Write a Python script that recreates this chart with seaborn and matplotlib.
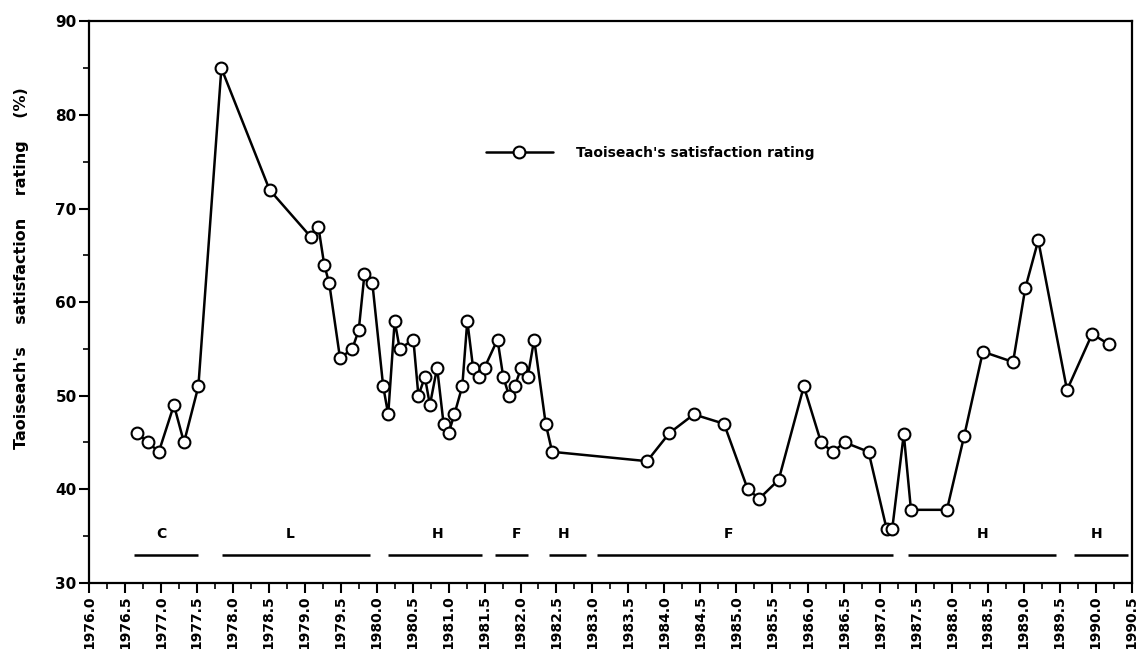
#!/usr/bin/env python3
"""
Taoiseach's satisfaction rating 1976-1990, with the party leader in office
marked along the bottom of the chart.
"""

import numpy as np
import matplotlib
matplotlib.use("Agg")
import matplotlib.pyplot as plt
import seaborn as sns

# Poll dates (decimal years) and satisfaction ratings (%)
years = [1976.67, 1976.82, 1976.97, 1977.18, 1977.32, 1977.52, 1977.84,
         1978.51, 1979.08, 1979.19, 1979.27, 1979.34, 1979.49, 1979.66,
         1979.75, 1979.83, 1979.94, 1980.09, 1980.16, 1980.25, 1980.32,
         1980.51, 1980.58, 1980.67, 1980.74, 1980.84, 1980.93, 1981.00,
         1981.08, 1981.19, 1981.26, 1981.34, 1981.42, 1981.50, 1981.68,
         1981.76, 1981.84, 1981.92, 1982.01, 1982.10, 1982.19, 1982.35,
         1982.44, 1983.76, 1984.07, 1984.41, 1984.83, 1985.16, 1985.32,
         1985.59, 1985.94, 1986.18, 1986.34, 1986.51, 1986.84, 1987.09,
         1987.17, 1987.33, 1987.43, 1987.93, 1988.17, 1988.43, 1988.85,
         1989.02, 1989.20, 1989.60, 1989.95, 1990.18]
ratings = [46, 45, 44, 49, 45, 51, 85,
           72, 67, 68, 64, 62, 54, 55,
           57, 63, 62, 51, 48, 58, 55,
           56, 50, 52, 49, 53, 47, 46,
           48, 51, 58, 53, 52, 53, 56,
           52, 50, 51, 53, 52, 56, 47,
           44, 43, 46, 48, 47, 40, 39,
           41, 51, 45, 44, 45, 44, 35.8,
           35.8, 45.9, 37.8, 37.8, 45.7, 54.7, 53.6,
           61.5, 66.6, 50.6, 56.6, 55.5]

# Taoiseach in office: C = Cosgrave, L = Lynch, H = Haughey, F = FitzGerald
leaders = ["C", "L", "H", "F", "H", "F", "H", "H"]
term_start = [1976.63, 1977.85, 1980.16, 1981.64, 1982.39, 1983.07, 1987.39, 1989.70]
term_end = [1977.51, 1979.90, 1981.47, 1982.10, 1982.91, 1987.18, 1989.45, 1990.45]
leader_label_x = [1977.00, 1978.80, 1980.85, 1981.94, 1982.60, 1984.89, 1988.43, 1990.01]
term_level = 33
leader_label_level = 35.2


def draw_chart():
    """Draw the rating line, the leader bars and save the figure."""
    sns.set_style("ticks")
    plt.rcParams["font.family"] = ["DejaVu Sans"]
    plt.rcParams["text.color"] = "black"
    plt.rcParams["axes.labelcolor"] = "black"
    plt.rcParams["xtick.color"] = "black"
    plt.rcParams["ytick.color"] = "black"

    fig = plt.figure(figsize=(11.42, 6.49), dpi=100)
    ax = fig.add_axes([0.078, 0.102, 0.913, 0.865])

    sns.lineplot(x=years, y=ratings, ax=ax, color="black", linewidth=1.8,
                 marker="o", markersize=8.5, markerfacecolor="white",
                 markeredgecolor="black", markeredgewidth=1.5,
                 label="Taoiseach's satisfaction rating")

    # Leader bars along the bottom
    ax.hlines([term_level] * len(leaders), term_start, term_end,
              color="black", linewidth=1.8)
    for lx, name in zip(leader_label_x, leaders):
        ax.text(lx, leader_label_level, name, ha="center", va="center",
                fontsize=10, fontweight="bold")

    ax.set_xlim(1976.0, 1990.5)
    ax.set_ylim(30, 90)
    ax.set_xticks(np.arange(1976.0, 1990.51, 0.5))
    ax.set_xticks(np.arange(1976.0, 1990.51, 0.25), minor=True)
    ax.set_xticklabels([f"{t:.1f}" for t in np.arange(1976.0, 1990.51, 0.5)],
                       rotation=90, fontsize=10, fontweight="bold")
    ax.set_yticks(np.arange(30, 91, 10))
    ax.set_yticks(np.arange(30, 91, 5), minor=True)
    ax.set_yticklabels([str(v) for v in range(30, 91, 10)],
                       fontsize=11, fontweight="bold")
    ax.tick_params(which="major", length=7, width=1.5, pad=2)
    ax.tick_params(which="minor", length=4, width=1.2)

    for side in ["left", "right", "top", "bottom"]:
        ax.spines[side].set_visible(True)
        ax.spines[side].set_linewidth(1.6)
        ax.spines[side].set_color("black")

    ax.set_xlabel("")
    ax.set_ylabel("Taoiseach's    satisfaction    rating    (%)",
                  fontsize=11.5, fontweight="bold", labelpad=12)
    ax.yaxis.set_label_coords(-0.058, 0.56)

    ax.legend(loc="center left", bbox_to_anchor=(0.4256, 0.7647),
              bbox_transform=fig.transFigure, frameon=False,
              borderpad=0, borderaxespad=0, handlelength=4.8,
              handletextpad=1.7, prop={"size": 10, "weight": "bold"})

    fig.savefig("out.png", dpi=100)
    plt.close(fig)


def main():
    draw_chart()


if __name__ == "__main__":
    main()
